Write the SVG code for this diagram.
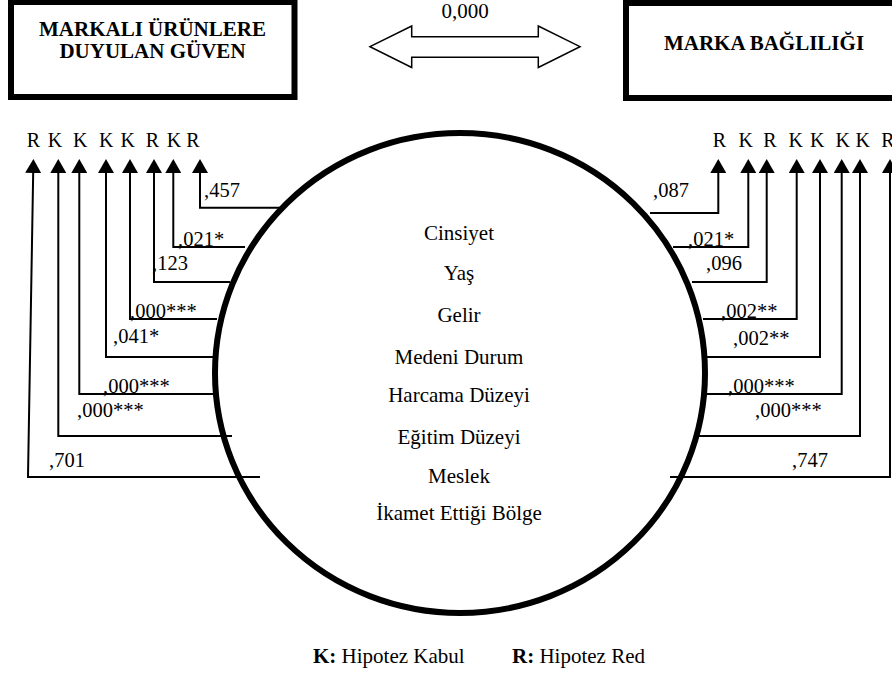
<svg xmlns="http://www.w3.org/2000/svg" width="892" height="675" viewBox="0 0 892 675" font-family="'Liberation Serif', serif">
<style>
  .t { font-family: 'Liberation Serif', 'Times New Roman', serif; fill: #000; }
  .title { font-size: 21px; font-weight: bold; text-anchor: middle; }
  .c { font-size: 21px; text-anchor: middle; }
  .v { font-size: 20.5px; }
  .hk { font-size: 20px; text-anchor: middle; }
  .lg { font-size: 21px; }
  .conn { fill: none; stroke: #000; stroke-width: 2; marker-end: url(#ah); }
  .box { fill: #fff; stroke: #000; stroke-width: 6; }
</style>
<defs>
  <marker id="ah" markerUnits="userSpaceOnUse" markerWidth="14" markerHeight="16" viewBox="0 0 14 16" refX="7" refY="8" orient="auto">
    <path d="M0,0 L14,8 L0,16 z" fill="#000"/>
  </marker>
</defs>
<rect width="892" height="675" fill="#fff"/>

<g id="box-left">
  <rect class="box" x="11" y="2" width="283.5" height="95"/>
  <text class="t title" x="152.5" y="36">MARKALI ÜRÜNLERE</text>
  <text class="t title" x="152.5" y="58">DUYULAN GÜVEN</text>
</g>

<g id="box-right">
  <rect class="box" x="626" y="3" width="300" height="95"/>
  <text class="t title" x="764" y="50">MARKA BAĞLILIĞI</text>
</g>

<g id="double-arrow">
  <polygon points="370,46.7 411.7,26 411.7,36.7 538.3,36.7 538.3,26 580,46.7 538.3,67.5 538.3,57.3 411.7,57.3 411.7,67.5" fill="#fff" stroke="#000" stroke-width="1.5"/>
  <text class="t c" x="465" y="18">0,000</text>
</g>

<g id="connectors">
  <path class="conn" d="M280,207.7 H200 V166"/>
  <path class="conn" d="M245,247 H173.3 V166"/>
  <path class="conn" d="M230,282 H154 V166"/>
  <path class="conn" d="M217,319 H130 V166"/>
  <path class="conn" d="M213,357 H106 V166"/>
  <path class="conn" d="M215,394 H79.3 V166"/>
  <path class="conn" d="M232,436 H58.3 V166"/>
  <path class="conn" d="M260,477 H28 L33.3,166"/>
  <path class="conn" d="M650,213 H718.3 V166"/>
  <path class="conn" d="M673,247 H748.3 V166"/>
  <path class="conn" d="M692,282 H766.7 V166"/>
  <path class="conn" d="M703,319 H796.7 V166"/>
  <path class="conn" d="M705,357 H820 V166"/>
  <path class="conn" d="M703,394 H841.7 V166"/>
  <path class="conn" d="M697,436 H860 V166"/>
  <path class="conn" d="M670,477 H890 V166"/>
</g>

<g id="circle">
  <ellipse cx="460" cy="373" rx="245" ry="240" fill="none" stroke="#000" stroke-width="6"/>
  <text class="t c" x="459" y="240">Cinsiyet</text>
  <text class="t c" x="459" y="280">Yaş</text>
  <text class="t c" x="459" y="322">Gelir</text>
  <text class="t c" x="459" y="364">Medeni Durum</text>
  <text class="t c" x="459" y="402">Harcama Düzeyi</text>
  <text class="t c" x="459" y="444">Eğitim Düzeyi</text>
  <text class="t c" x="459" y="483">Meslek</text>
  <text class="t c" x="459" y="520">İkamet Ettiği Bölge</text>
</g>

<g id="values-left">
  <text class="t v" x="204" y="197">,457</text>
  <text class="t v" x="178" y="246">,021*</text>
  <text class="t v" x="152" y="270">,123</text>
  <text class="t v" x="130" y="318">,000***</text>
  <text class="t v" x="113" y="343">,041*</text>
  <text class="t v" x="103" y="393">,000***</text>
  <text class="t v" x="77" y="417">,000***</text>
  <text class="t v" x="49" y="467">,701</text>
</g>

<g id="values-right">
  <text class="t v" x="653" y="197">,087</text>
  <text class="t v" x="688" y="246">,021*</text>
  <text class="t v" x="706" y="270">,096</text>
  <text class="t v" x="721" y="318">,002**</text>
  <text class="t v" x="733" y="345">,002**</text>
  <text class="t v" x="728" y="393">,000***</text>
  <text class="t v" x="755" y="417">,000***</text>
  <text class="t v" x="792" y="467">,747</text>
</g>

<g id="labels-left">
  <text class="t hk" x="33.3" y="147">R</text>
  <text class="t hk" x="55" y="147">K</text>
  <text class="t hk" x="80.3" y="147">K</text>
  <text class="t hk" x="106.3" y="147">K</text>
  <text class="t hk" x="127.7" y="147">K</text>
  <text class="t hk" x="152.3" y="147">R</text>
  <text class="t hk" x="174" y="147">K</text>
  <text class="t hk" x="193" y="147">R</text>
</g>

<g id="labels-right">
  <text class="t hk" x="719.3" y="147">R</text>
  <text class="t hk" x="745.7" y="147">K</text>
  <text class="t hk" x="770" y="147">R</text>
  <text class="t hk" x="795.7" y="147">K</text>
  <text class="t hk" x="817.3" y="147">K</text>
  <text class="t hk" x="842.7" y="147">K</text>
  <text class="t hk" x="862.7" y="147">K</text>
  <text class="t hk" x="888" y="147">R</text>
</g>

<g id="legend">
  <text class="t lg" x="313" y="663"><tspan font-weight="bold">K:</tspan> Hipotez Kabul</text>
  <text class="t lg" x="512" y="663"><tspan font-weight="bold">R:</tspan> Hipotez Red</text>
</g>
</svg>
